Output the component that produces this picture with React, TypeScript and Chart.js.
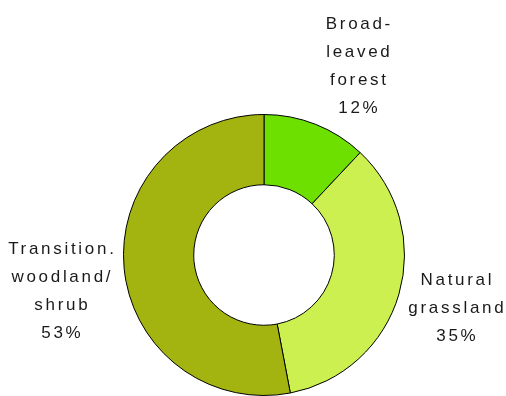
import React, { useEffect, useRef } from "react";
import { Chart, registerables } from "chart.js";

Chart.register(...registerables);

const categories = ["Broad-leaved forest", "Natural grassland", "Transition. woodland/ shrub"];
const values = [12, 35, 53];
const colors = ["#6EE000", "#CCF050", "#A3B410"];
const labelLines = [
  ["Broad-", "leaved", "forest", "12%"],
  ["Natural", "grassland", "35%"],
  ["Transition.", "woodland/", "shrub", "53%"],
];

// label block anchors (layout): center x, first baseline y
const labelAnchors = [
  { x: 358, y: 28.5 },
  { x: 456, y: 284.5 },
  { x: 61, y: 253.5 },
];

const labelPlugin = {
  id: "sliceLabels",
  afterDraw(chart: any) {
    const ctx = chart.ctx;
    ctx.save();
    ctx.font = "17px 'Liberation Sans', Arial, sans-serif";
    (ctx as any).letterSpacing = "2.7px";
    ctx.fillStyle = "#1a1a1a";
    ctx.textAlign = "center";
    ctx.textBaseline = "alphabetic";
    labelLines.forEach((lines, i) => {
      const a = labelAnchors[i];
      lines.forEach((line, j) => {
        ctx.fillText(line, a.x + 1.35, a.y + j * 28);
      });
    });
    ctx.restore();
  },
};

export default function App() {
  const ref = useRef<HTMLCanvasElement>(null);
  useEffect(() => {
    document.body.style.margin = "0";
    const chart = new Chart(ref.current!, {
      type: "doughnut",
      data: {
        labels: categories,
        datasets: [
          {
            data: values,
            backgroundColor: colors,
            borderColor: "#000000",
            borderWidth: 1,
          },
        ],
      },
      options: {
        responsive: false,
        animation: false,
        cutout: "50%",
        rotation: 0,
        layout: { padding: { left: 123, right: 101, top: 114, bottom: 0 } },
        plugins: {
          legend: { display: false },
          tooltip: { enabled: false },
          title: { display: false },
        },
      },
      plugins: [labelPlugin],
    });
    return () => chart.destroy();
  }, []);
  return (
    <div style={{ position: "absolute", left: 0, top: 0, width: 506, height: 396 }}>
      <canvas ref={ref} width={506} height={396} style={{ width: 506, height: 396 }} />
    </div>
  );
}
